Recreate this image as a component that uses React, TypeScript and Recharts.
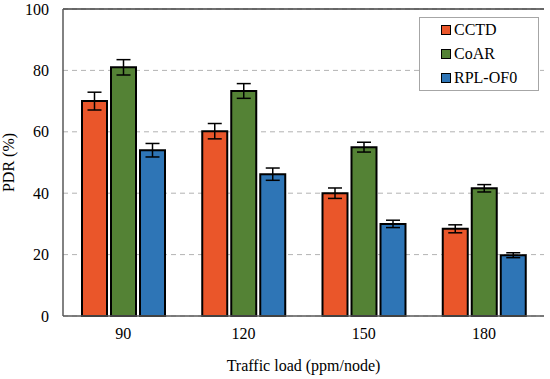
import { BarChart, Bar, XAxis, YAxis, CartesianGrid, ErrorBar, Legend, ReferenceLine } from "recharts";

const categories = ["90", "120", "150", "180"];
const cctd = [70.0, 60.2, 40.0, 28.4];
const coar = [81.0, 73.3, 55.0, 41.6];
const rplOf0 = [54.0, 46.2, 30.0, 19.8];
const cctdErr = [2.9, 2.5, 1.7, 1.3];
const coarErr = [2.5, 2.4, 1.6, 1.2];
const rplOf0Err = [2.2, 2.0, 1.2, 0.8];
const yTicks = [0, 20, 40, 60, 80, 100];

const data = categories.map((load, i) => ({
  load,
  cctd: cctd[i],
  coar: coar[i],
  rpl: rplOf0[i],
  cctdErr: cctdErr[i],
  coarErr: coarErr[i],
  rplErr: rplOf0Err[i],
}));

const FONT = "Liberation Serif";

const series = [
  { key: "cctd", err: "cctdErr", name: "CCTD", color: "#EA562A" },
  { key: "coar", err: "coarErr", name: "CoAR", color: "#548235" },
  { key: "rpl", err: "rplErr", name: "RPL-OF0", color: "#2E75B6" },
];

const LegendBox = (props: any) => {
  const payload = props.payload || [];
  return (
    <div style={{ boxSizing: "border-box", width: 120, border: "1px solid #a6a6a6", background: "#fff", fontFamily: FONT, fontSize: 16, color: "#000", textAlign: "left" }}>
      {payload.map((p: any) => (
        <div key={p.value} style={{ display: "flex", alignItems: "center", height: 24, marginLeft: 21 }}>
          <span style={{ flex: "0 0 auto", width: 8, height: 8, background: p.color, border: "1px solid #000", marginRight: 3 }} />
          <span>{p.value}</span>
        </div>
      ))}
    </div>
  );
};

const PdrChart = () => {
  return (
    <div style={{ position: "absolute", left: 0, top: 0, width: 550, height: 379, background: "#fff" }}>
      <BarChart width={550} height={379} data={data} margin={{ top: 9, right: 6, left: 0, bottom: 0 }} barGap={4} barCategoryGap={18}>
        <CartesianGrid horizontal vertical={false} stroke="#b3b3b3" strokeDasharray="5 4" />
        <XAxis
          dataKey="load"
          height={63}
          axisLine={{ stroke: "#595959", strokeWidth: 1.5 }}
          tickLine={false}
          tickMargin={6}
          tick={{ fontSize: 16, fill: "#000", fontFamily: FONT }}
          label={{ value: "Traffic load (ppm/node)", position: "insideBottom", offset: 8, style: { fontSize: 16, fill: "#000", fontFamily: FONT } }}
        />
        <YAxis
          width={63}
          domain={[0, 100]}
          ticks={yTicks}
          axisLine={{ stroke: "#595959", strokeWidth: 1.5 }}
          tickLine={false}
          tickMargin={8}
          tick={{ fontSize: 16, fill: "#000", fontFamily: FONT }}
          label={{ value: "PDR (%)", angle: -90, position: "insideLeft", offset: 8, style: { fontSize: 16, fill: "#000", fontFamily: FONT, textAnchor: "middle" } }}
        />
        <YAxis yAxisId="r" orientation="right" width={0} domain={[0, 100]} tick={false} tickLine={false} axisLine={{ stroke: "#404040", strokeWidth: 1.5 }} />
        <ReferenceLine y={100} stroke="#404040" strokeWidth={1.5} />
        <Legend
          layout="horizontal"
          verticalAlign="middle"
          align="center"
          content={LegendBox}
          wrapperStyle={{ position: "absolute", top: 17, left: 419, width: 120, height: "auto" }}
        />
        {series.map((s) => (
          <Bar key={s.key} dataKey={s.key} name={s.name} fill={s.color} stroke="#000" strokeWidth={2} barSize={25} isAnimationActive={false}>
            <ErrorBar dataKey={s.err} width={7} stroke="#000" strokeWidth={1.5} />
          </Bar>
        ))}
      </BarChart>
    </div>
  );
};

export default PdrChart;
